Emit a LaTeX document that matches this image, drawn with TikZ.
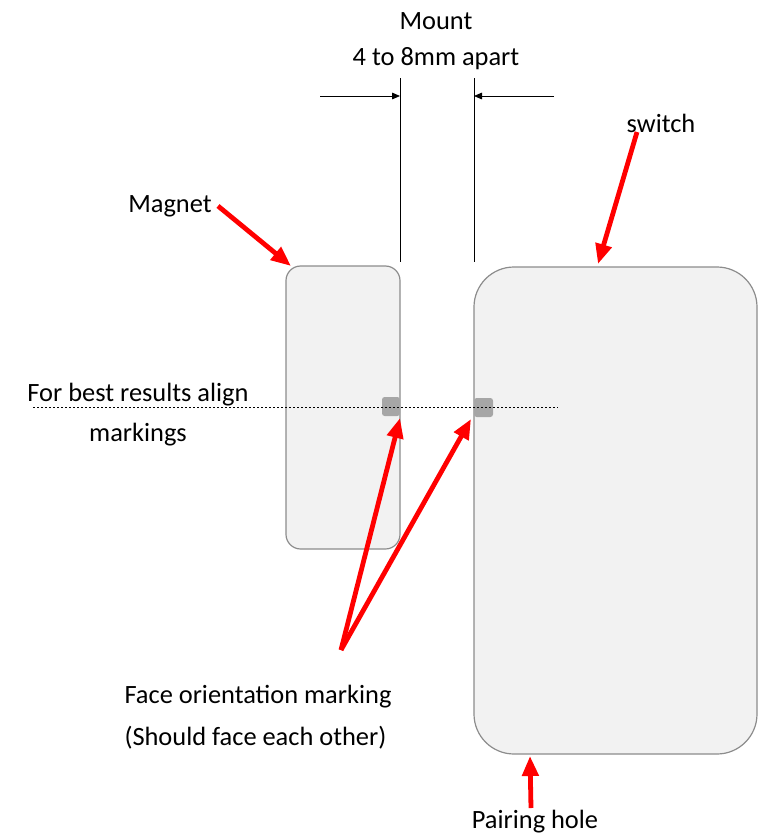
\documentclass[tikz,border=0pt]{standalone}
\usepackage{fontspec}
\setmainfont{Carlito}
\usetikzlibrary{arrows.meta}
\definecolor{bodyfill}{HTML}{F2F2F2}
\definecolor{bodyline}{HTML}{8C8C8C}
\definecolor{markfill}{HTML}{A6A6A6}
\tikzset{
  labeltext/.style={font=\fontsize{19.8}{24}\selectfont, inner sep=0pt},
  pointer/.style={draw=red, line width=3.6pt, -{Triangle[length=15pt,width=12pt]}},
  dimarrow/.style={-{Triangle[length=6pt,width=5pt]}, line width=0.6pt},
  body/.style={draw=bodyline, fill=bodyfill, line width=0.9pt}
}
\begin{document}
\begin{tikzpicture}[x=0.75pt,y=-0.75pt]
\useasboundingbox (0,0) rectangle (763,836);

% housings
\draw[body, rounded corners=11pt] (286,266) rectangle (400,549);
\draw[body, rounded corners=30pt] (474,267) rectangle (757,754);

% orientation marks
\fill[markfill, rounded corners=2pt] (382,397) rectangle (400,416);
\fill[markfill, rounded corners=2pt] (474,398) rectangle (493,417);

% mounting gap
\draw[line width=0.6pt] (400,78)--(400,262);
\draw[line width=0.6pt] (474,78)--(474,262);
\coordinate (gapL) at (400,96);
\coordinate (gapR) at (474,96);
\coordinate (dimL) at (320,96);
\coordinate (dimR) at (554,96);
\draw[dimarrow] (dimL)--(gapL);
\draw[dimarrow] (dimR)--(gapR);
\node[labeltext] (mount) at (436,21) {Mount};
\node[labeltext] (apart) at (436,59) {4 to 8mm apart};

% alignment line
\draw[line width=0.6pt, dash pattern=on 1.5pt off 1.5pt] (33,407)--(558,407);
\node[labeltext, align=center] (align) at (138,415) {For best results align\\[6pt]markings};

% labels
\node[labeltext] (magnet) at (170,206) {Magnet};
\node[labeltext] (switch) at (661,123) {switch};
\node[labeltext, align=left] (face) at (258,717) {Face orientation marking\\[7.5pt](Should face each other)};
\node[labeltext] (pairing) at (535,822) {Pairing hole};

\coordinate (magnetTip) at (291,266);
\coordinate (switchTip) at (598,264);
\coordinate (pairTip) at (530,756);
\coordinate (faceStart) at (341,650);
\coordinate (markL) at (400,418);
\coordinate (markR) at (471,419);
\coordinate (magnetStart) at (218,206);
\coordinate (switchStart) at (637,132);
\coordinate (pairStart) at (531,808);

% red pointers
\draw[pointer] (magnetStart)--(magnetTip);
\draw[pointer] (switchStart)--(switchTip);
\draw[pointer] (pairStart)--(pairTip);
\draw[pointer] (faceStart)--(markL);
\draw[pointer] (faceStart)--(markR);
\end{tikzpicture}
\end{document}
